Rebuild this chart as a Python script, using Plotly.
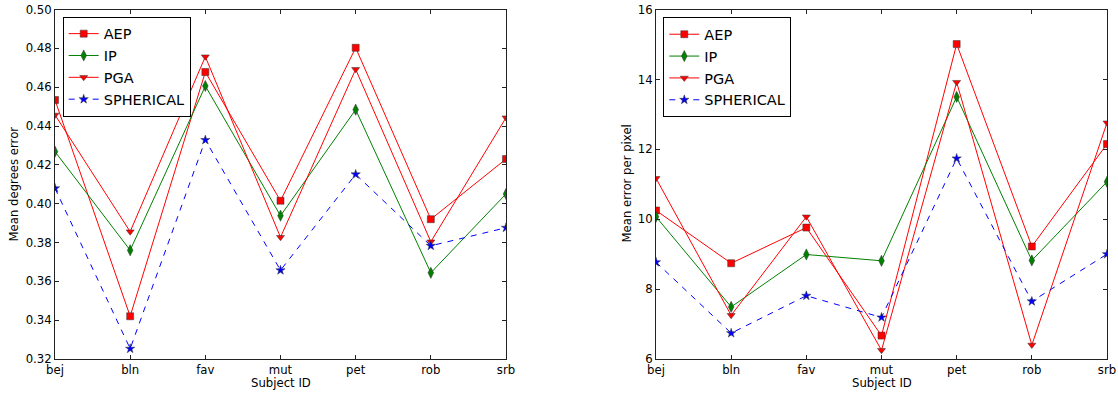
import plotly.graph_objects as go

W, H = 1118, 396
OFF = 0  # body margin removed below, figure starts at page corner

subjects = ["bej", "bln", "fav", "mut", "pet", "rob", "srb"]

# Left panel: mean degrees error
deg_aep = [0.4534, 0.342, 0.4678, 0.4015, 0.4803, 0.392, 0.423]
deg_ip = [0.4268, 0.376, 0.4606, 0.3938, 0.4484, 0.3644, 0.405]
deg_pga = [0.4457, 0.3856, 0.4757, 0.3827, 0.4692, 0.3804, 0.4443]
deg_sph = [0.4079, 0.3253, 0.4328, 0.3657, 0.4151, 0.3783, 0.3876]

# Right panel: mean error per pixel
pix_aep = [10.25, 8.74, 9.76, 6.67, 15.01, 9.22, 12.15]
pix_ip = [10.07, 7.49, 8.99, 8.81, 13.5, 8.82, 11.07]
pix_pga = [11.17, 7.25, 10.07, 6.25, 13.92, 6.4, 12.76]
pix_sph = [8.77, 6.74, 7.81, 7.19, 11.74, 7.65, 9.0]

font = "DejaVu Sans"
RED = "#ff0000"
GREEN = "#008000"
BLUE = "#0000ff"

styles = [
    ("AEP", RED, "square", "solid", 7),
    ("IP", GREEN, "diamond-tall", "solid", 8),
    ("PGA", RED, "triangle-down", "solid", 7),
    ("SPHERICAL", BLUE, "star", "6px,6px", 7),
]


def px(v):
    return (v - OFF) / W


def py(v):
    return 1 - (v - OFF) / H


fig = go.Figure()

panels = [
    ("x", "y", "legend", [deg_aep, deg_ip, deg_pga, deg_sph]),
    ("x2", "y2", "legend2", [pix_aep, pix_ip, pix_pga, pix_sph]),
]
for xa, ya, lg, series in panels:
    for (name, col, sym, dash, ms), vals in zip(styles, series):
        fig.add_trace(go.Scatter(
            x=subjects, y=vals, name=name, xaxis=xa, yaxis=ya, legend=lg,
            mode="lines+markers",
            line=dict(color=col, width=1, dash=dash),
            marker=dict(symbol=sym, size=ms, color=col,
                        line=dict(color="#333333", width=0.5)),
        ))

ydom = [py(359), py(9.5)]
axis_common = dict(
    showline=True, linecolor="#222222", linewidth=1, mirror="ticks",
    ticks="inside", ticklen=4, tickwidth=1, tickcolor="#222222",
    showgrid=False, zeroline=False, automargin=False,
    tickfont=dict(family=font, size=11.7, color="black"),
)
txt = dict(xref="paper", yref="paper", showarrow=False,
           xanchor="center", yanchor="middle",
           font=dict(family=font, size=11.7, color="black"))

fig.update_layout(
    template="none",
    width=W, height=H,
    margin=dict(l=0, r=0, t=0, b=0, pad=0),
    paper_bgcolor="white", plot_bgcolor="white",
    font=dict(family=font, color="black"),
    xaxis=dict(domain=[px(55), px(506)], type="category", range=[0, 6],
               anchor="y", **axis_common),
    yaxis=dict(domain=ydom, range=[0.32, 0.50], dtick=0.02, tickformat=".2f",
               anchor="x", **axis_common),
    xaxis2=dict(domain=[px(656), px(1107)], type="category", range=[0, 6],
                anchor="y2", **axis_common),
    yaxis2=dict(domain=ydom, range=[6, 16], dtick=2, anchor="x2",
                **axis_common),
    legend=dict(x=px(62.7), y=py(16.7), xanchor="left", yanchor="top",
                bgcolor="white", bordercolor="black", borderwidth=1,
                font=dict(family=font, size=14.5, color="black")),
    legend2=dict(x=px(663.3), y=py(17.3), xanchor="left", yanchor="top",
                 bgcolor="white", bordercolor="black", borderwidth=1,
                 font=dict(family=font, size=14.5, color="black")),
    annotations=[
        dict(text="Subject ID", x=px((55 + 506) / 2), y=py(383), **txt),
        dict(text="Subject ID", x=px((656 + 1107) / 2), y=py(383), **txt),
        dict(text="Mean degrees error", x=px(13.5), y=py(184),
             textangle=-90, **txt),
        dict(text="Mean error per pixel", x=px(626.5), y=py(184),
             textangle=-90, **txt),
    ],
)

fig.write_html(
    "out.html",
    config={"displayModeBar": False},
    post_script="document.body.style.margin='0px';"
                "document.body.style.overflow='hidden';",
)
